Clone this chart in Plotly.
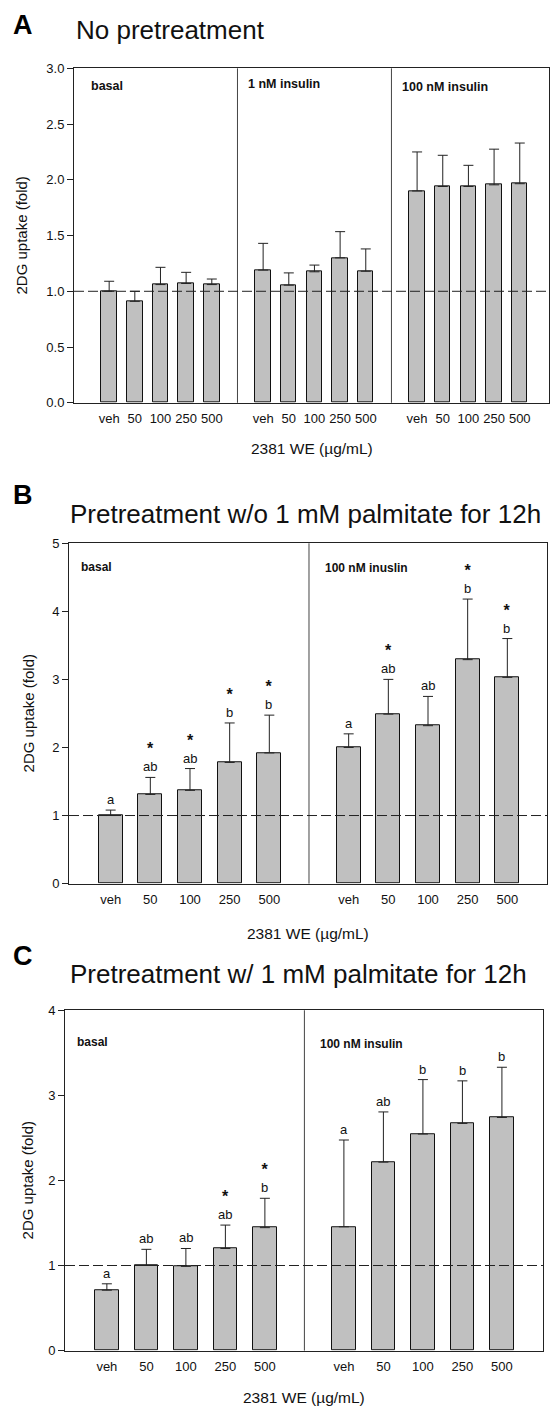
import plotly.graph_objects as go

W, H = 550, 1414
FONT = "Liberation Sans, Arial, Helvetica, sans-serif"

# ---- data ---------------------------------------------------------------
doses = ["veh", "50", "100", "250", "500"]

# A: no pretreatment
a_groups = ["basal", "1 nM insulin", "100 nM insulin"]
a_means = [
    [1.00, 0.91, 1.06, 1.07, 1.06],
    [1.19, 1.055, 1.175, 1.30, 1.18],
    [1.90, 1.94, 1.94, 1.955, 1.965],
]
a_errs = [
    [0.09, 0.09, 0.155, 0.10, 0.05],
    [0.24, 0.11, 0.06, 0.235, 0.20],
    [0.35, 0.28, 0.19, 0.32, 0.365],
]

# B: pretreatment without palmitate
b_groups = ["basal", "100 nM inuslin"]
b_means = [
    [1.00, 1.31, 1.37, 1.78, 1.92],
    [2.00, 2.49, 2.32, 3.29, 3.03],
]
b_errs = [
    [0.08, 0.25, 0.32, 0.58, 0.555],
    [0.20, 0.51, 0.43, 0.89, 0.57],
]
b_letters = [
    ["a", "ab", "ab", "b", "b"],
    ["a", "ab", "ab", "b", "b"],
]
b_stars = [
    [False, True, True, True, True],
    [False, True, False, True, True],
]

# C: pretreatment with palmitate
c_groups = ["basal", "100 nM insulin"]
c_means = [
    [0.71, 1.00, 0.99, 1.20, 1.445],
    [1.455, 2.215, 2.545, 2.67, 2.74],
]
c_errs = [
    [0.075, 0.19, 0.21, 0.275, 0.345],
    [1.02, 0.59, 0.64, 0.50, 0.59],
]
c_letters = [
    ["a", "ab", "ab", "ab", "b"],
    ["a", "ab", "b", "b", "b"],
]
c_stars = [
    [False, False, False, True, True],
    [False, False, False, False, False],
]

panel_titles = ["No pretreatment",
                "Pretreatment w/o 1 mM palmitate for 12h",
                "Pretreatment w/ 1 mM palmitate for 12h"]
panel_letters = ["A", "B", "C"]
y_title = "2DG uptake (fold)"
x_title = "2381 WE (\u00b5g/mL)"


def px_x(v):
    return v / W


def px_y(v):
    return 1 - v / H


fig = go.Figure()
shapes, annotations = [], []

# layout of each panel in page pixels
boxes = [
    dict(l=74, r=549, t=62, b=400, xr=[-1.37, 17.14], yr=[0, 3.0], dt=0.5, fmt=".1f",
         label_y=[80, 78, 81], label_size=12.5, title_y=23, letter_y=18,
         xt_y=446, yt_x=22),
    dict(l=69, r=547, t=542, b=886, xr=[-1.05, 11.0], yr=[0, 5], dt=1, fmt="d",
         label_y=[566, 567], label_size=12, title_y=512, letter_y=493,
         xt_y=936, yt_x=28),
    dict(l=65, r=543, t=1014, b=1358, xr=[-1.06, 11.04], yr=[0, 4], dt=1, fmt="d",
         label_y=[1046, 1048], label_size=12, title_y=977, letter_y=959,
         xt_y=1405, yt_x=27),
]

panels = [
    (a_groups, a_means, a_errs, None, None),
    (b_groups, b_means, b_errs, b_letters, b_stars),
    (c_groups, c_means, c_errs, c_letters, c_stars),
]

for p, (groups, means, errs, letters, stars) in enumerate(panels):
    n = p + 1
    box = boxes[p]
    xa = "x" if n == 1 else f"x{n}"
    ya = "y" if n == 1 else f"y{n}"
    tickvals, ticktext = [], []
    for g, (vals, ev) in enumerate(zip(means, errs)):
        xs = [g * 6 + i for i in range(len(doses))]
        tickvals += xs
        ticktext += doses
        fig.add_trace(go.Bar(
            x=xs, y=vals, width=0.6, xaxis=xa, yaxis=ya,
            marker=dict(color="#c0c0c0", line=dict(color="#111111", width=1)),
            error_y=dict(type="data", symmetric=False, array=ev,
                         arrayminus=[0] * len(ev), color="#222222",
                         thickness=1, width=5),
            showlegend=False, hoverinfo="skip",
        ))
        # significance letters (with a star when marked) above the error bars
        if letters is not None:
            for i, x in enumerate(xs):
                top = vals[i] + ev[i]
                label = letters[g][i]
                if stars[g][i]:
                    label = "<span style='font-size:16px'><b>*</b></span><br>" + label
                annotations.append(dict(
                    x=x, y=top, xref=xa, yref=ya, text=label,
                    showarrow=False, yanchor="bottom", yshift=1,
                    font=dict(family=FONT, size=13, color="#111111")))
        # group divider to the right of each group except the last
        if g < len(means) - 1:
            shapes.append(dict(type="line", xref=xa, yref=f"{ya} domain",
                               x0=g * 6 + 5, x1=g * 6 + 5, y0=0, y1=1,
                               line=dict(color="#444444", width=1)))
        # group label
        annotations.append(dict(
            x=g * 6 - 0.8 if g == 0 else g * 6 - 0.65, y=px_y(box["label_y"][g]),
            xref=xa, yref="paper", text=f"<b>{groups[g]}</b>",
            showarrow=False, xanchor="left", yanchor="middle",
            font=dict(family=FONT, size=box["label_size"], color="#111111")))

    # dashed reference line at 1-fold
    shapes.append(dict(type="line", xref=f"{xa} domain", yref=ya,
                       x0=0, x1=1, y0=1, y1=1,
                       line=dict(color="#222222", width=1, dash="10px,4px")))

    axis_common = dict(showgrid=False, zeroline=False, showline=True,
                       linecolor="#222222", linewidth=1, mirror=True)
    fig.update_layout({
        ("xaxis" if n == 1 else f"xaxis{n}"): dict(
            domain=[px_x(box["l"]), px_x(box["r"])], range=box["xr"],
            anchor=ya, tickmode="array", tickvals=tickvals, ticktext=ticktext,
            ticks="", ticklabelstandoff=4,
            tickfont=dict(family=FONT, size=13, color="#111111"), **axis_common),
        ("yaxis" if n == 1 else f"yaxis{n}"): dict(
            domain=[px_y(box["b"]), px_y(box["t"])], range=box["yr"],
            anchor=xa, dtick=box["dt"], tick0=0, tickformat=box["fmt"],
            ticks="outside", ticklen=6, tickcolor="#222222",
            tickfont=dict(family=FONT, size=13, color="#111111"), **axis_common),
    })

    # axis titles
    annotations.append(dict(
        x=px_x((box["l"] + box["r"]) / 2), y=px_y(box["xt_y"]), xref="paper",
        yref="paper", text=x_title, showarrow=False, yanchor="middle",
        font=dict(family=FONT, size=15.5, color="#111111")))
    annotations.append(dict(
        x=px_x(box["yt_x"]), y=px_y((box["t"] + box["b"]) / 2), xref="paper",
        yref="paper", text=y_title, showarrow=False, textangle=-90,
        xanchor="center", yanchor="middle",
        font=dict(family=FONT, size=15, color="#111111")))

    # panel letter and title
    annotations.append(dict(
        x=px_x(11), y=px_y(box["letter_y"]), xref="paper", yref="paper",
        text=f"<b>{panel_letters[p]}</b>", showarrow=False, xanchor="left",
        yanchor="middle", font=dict(family=FONT, size=27, color="#000000")))
    annotations.append(dict(
        x=px_x(74 if n == 1 else 68), y=px_y(box["title_y"]), xref="paper",
        yref="paper", text=panel_titles[p], showarrow=False, xanchor="left",
        yanchor="middle", font=dict(family=FONT, size=26, color="#111111")))

fig.update_layout(
    width=W, height=H, margin=dict(l=0, r=0, t=0, b=0),
    paper_bgcolor="white", plot_bgcolor="white", bargap=0,
    shapes=shapes, annotations=annotations,
)

fig.write_html("out.html")
